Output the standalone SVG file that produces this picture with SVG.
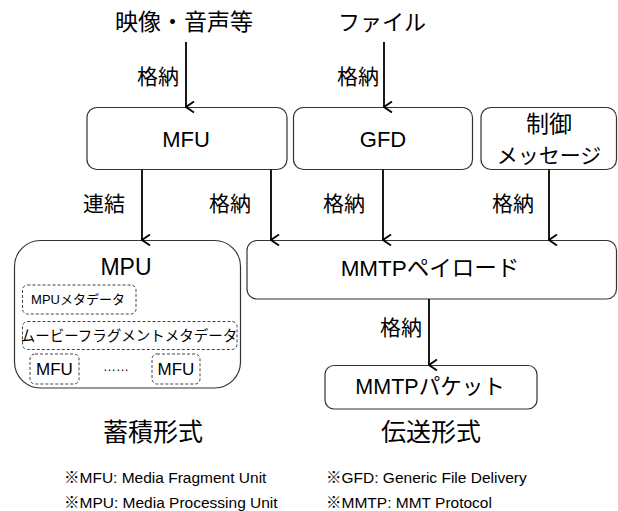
<svg xmlns="http://www.w3.org/2000/svg" width="618" height="511" viewBox="0 0 618 511">
<defs>
<style>
text{font-family:"Liberation Sans","Noto Sans CJK JP",sans-serif;fill:#000;text-anchor:middle;dominant-baseline:central}
.box{fill:#fff;stroke:#333;stroke-width:1.2}
.dash{fill:#fff;stroke:#444;stroke-width:1;stroke-dasharray:3 2}
.conn line{stroke:#000;stroke-width:1.8;marker-end:url(#ah)}
.lbl{font-size:21px}
.note{font-size:15.5px;text-anchor:start}
</style>
<marker id="ah" viewBox="0 0 12 12" refX="6" refY="11" markerWidth="12" markerHeight="12" markerUnits="userSpaceOnUse" orient="auto-start-reverse">
<path d="M0.5,3 L6,11 L11.5,3" fill="none" stroke="#000" stroke-width="1.8"/>
</marker>
</defs>
<rect width="618" height="511" fill="#fff"/>

<g id="src-av"><text x="184" y="22" font-size="23">映像・音声等</text></g>
<g id="src-file"><text x="382" y="22" font-size="22">ファイル</text></g>

<g id="mfu"><rect class="box" x="87" y="107.5" width="200" height="62" rx="10"/><text x="186" y="139" font-size="22">MFU</text></g>
<g id="gfd"><rect class="box" x="293.5" y="107.5" width="179" height="62" rx="10"/><text x="383" y="139" font-size="22">GFD</text></g>
<g id="ctrl"><rect class="box" x="481" y="107.5" width="135.5" height="62" rx="10"/><text x="549" y="124" font-size="23">制御</text><text x="549" y="155" font-size="21">メッセージ</text></g>

<g id="mpu"><rect class="box" x="14.5" y="240.5" width="226" height="147.5" rx="26"/>
<text x="126" y="267" font-size="23">MPU</text>
<rect class="dash" x="22.5" y="285" width="113.5" height="29" rx="5"/>
<text x="78" y="299.5" font-size="13">MPUメタデータ</text>
<rect class="dash" x="22.5" y="321.5" width="214.5" height="28" rx="5"/>
<text x="129" y="335.5" font-size="14.5">ムービーフラグメントメタデータ</text>
<rect class="dash" x="30" y="354" width="49" height="30" rx="5"/>
<text x="54.5" y="369.5" font-size="17">MFU</text>
<text x="116" y="366" font-size="13">……</text>
<rect class="dash" x="152" y="354" width="48" height="30" rx="5"/>
<text x="176" y="369.5" font-size="17">MFU</text>
</g>

<g id="payload"><rect class="box" x="247" y="240.5" width="369.5" height="58.5" rx="10"/><text x="430" y="268" font-size="22.5">MMTPペイロード</text></g>
<g id="packet"><rect class="box" x="325" y="365.5" width="212" height="43.5" rx="9"/><text x="430" y="387" font-size="21.5">MMTPパケット</text></g>

<g id="cap-store"><text x="153" y="432" font-size="25">蓄積形式</text></g>
<g id="cap-trans"><text x="431" y="432" font-size="25">伝送形式</text></g>

<g id="notes">
<text class="note" x="64" y="477">※MFU: Media Fragment Unit</text>
<text class="note" x="64" y="502">※MPU: Media Processing Unit</text>
<text class="note" x="326" y="477">※GFD: Generic File Delivery</text>
<text class="note" x="326" y="502">※MMTP: MMT Protocol</text>
</g>

<g id="connectors" class="conn">
<line x1="186" y1="42" x2="186" y2="107"/>
<line x1="384" y1="42" x2="384" y2="107"/>
<line x1="142" y1="169.5" x2="142" y2="240"/>
<line x1="271" y1="169.5" x2="271" y2="240"/>
<line x1="383" y1="169.5" x2="383" y2="240"/>
<line x1="549" y1="169.5" x2="549" y2="240"/>
<line x1="429" y1="299" x2="429" y2="365"/>
</g>
<g id="conn-labels">
<text class="lbl" x="158" y="76">格納</text>
<text class="lbl" x="358" y="76">格納</text>
<text class="lbl" x="104" y="203">連結</text>
<text class="lbl" x="230" y="203">格納</text>
<text class="lbl" x="344" y="203">格納</text>
<text class="lbl" x="513" y="203">格納</text>
<text class="lbl" x="401" y="327">格納</text>
</g>
</svg>
